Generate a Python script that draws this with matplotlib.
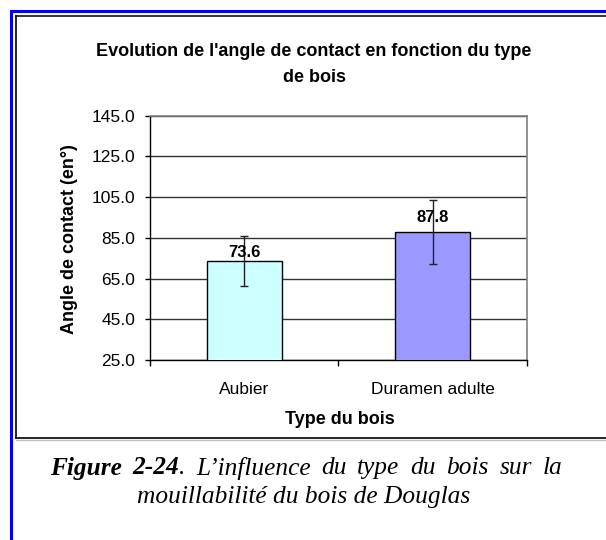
import matplotlib
matplotlib.use("Agg")
import matplotlib.pyplot as plt
from matplotlib.lines import Line2D
from matplotlib.ticker import FixedLocator, FormatStrFormatter

# Data
categories = ["Aubier", "Duramen adulte"]
angles = [73.6, 87.8]
errors = [12.1, 15.8]
bar_colors = ["#CCFFFF", "#9999FF"]
y_ticks = [25.0, 45.0, 65.0, 85.0, 105.0, 125.0, 145.0]

W, H = 606, 540
fig = plt.figure(figsize=(W / 100, H / 100), dpi=100)
fig.patch.set_facecolor("white")


def fx(px):
    return px / W


def fy(py):
    return 1 - py / H


SANS = "Liberation Sans"
SERIF = "Liberation Serif"

# Page frame: blue border lines and the black chart frame with its shadow
fig.add_artist(Line2D([fx(11), fx(11)], [fy(11), fy(540)], color="#0000FF", lw=2.2))
fig.add_artist(Line2D([fx(11), fx(606)], [fy(11), fy(11)], color="#0000FF", lw=2.2))
fig.add_artist(Line2D([fx(15.5), fx(606)], [fy(15.5), fy(15.5)], color="#333333", lw=1.4))
fig.add_artist(Line2D([fx(15.5), fx(15.5)], [fy(15.5), fy(438)], color="black", lw=1.2))
fig.add_artist(Line2D([fx(15.5), fx(606)], [fy(438), fy(438)], color="black", lw=1.2))
fig.add_artist(Line2D([fx(16), fx(606)], [fy(440), fy(440)], color="#C0C0C0", lw=1.0))

# Plot area
left, right, top, bottom = 150, 526.7, 115.7, 360
ax = fig.add_axes([fx(left), fy(bottom), fx(right - left), (bottom - top) / H])
x = list(range(len(categories)))
ax.bar(x, angles, width=0.4, color=bar_colors, edgecolor="black", linewidth=1.0, zorder=3)
ax.errorbar(x, angles, yerr=errors, fmt="none", ecolor="#222222", elinewidth=1.0,
            capsize=3, capthick=1.0, zorder=4)

label_offsets = [0.5, 5]
for xi, v, off in zip(x, angles, label_offsets):
    ax.annotate(f"{v:.1f}", (xi, v), xytext=(0, off), textcoords="offset points",
                ha="center", va="bottom", fontsize=12, fontweight="bold",
                family=SANS, zorder=5)

ax.set_xlim(-0.5, len(categories) - 0.5)
ax.set_ylim(y_ticks[0], y_ticks[-1])
ax.set_yticks(y_ticks)
ax.yaxis.set_major_formatter(FormatStrFormatter("%.1f"))
ax.yaxis.grid(True, color="#333333", linewidth=1.0, zorder=0)
ax.set_axisbelow(True)

ax.set_xticks(x)
ax.set_xticklabels(categories)
ax.xaxis.set_minor_locator(FixedLocator([i - 0.5 for i in range(len(categories) + 1)]))
ax.tick_params(axis="x", which="major", length=0, pad=16)
ax.tick_params(axis="x", which="minor", length=4.5, width=1.0, direction="out", color="black")
ax.tick_params(axis="y", length=3.6, width=1.0, direction="out", pad=7, color="black")
for lab in ax.get_xticklabels() + ax.get_yticklabels():
    lab.set_family(SANS)
    lab.set_fontsize(12.5)

for side in ("left", "bottom"):
    ax.spines[side].set_color("black")
    ax.spines[side].set_linewidth(1.0)
for side in ("top", "right"):
    ax.spines[side].set_color("#808080")
    ax.spines[side].set_linewidth(1.2)

# Titles and axis labels
fig.text(fx(314), fy(51), "Evolution de l'angle de contact en fonction du type",
         ha="center", va="center", fontsize=13, fontweight="bold", family=SANS)
fig.text(fx(314), fy(77), "de bois",
         ha="center", va="center", fontsize=13, fontweight="bold", family=SANS)
fig.text(fx(70), fy(239), "Angle de contact (en°)", rotation=90,
         ha="center", va="center", fontsize=13, fontweight="bold", family=SANS)
fig.text(fx(340), fy(420), "Type du bois",
         ha="center", va="center", fontsize=13, fontweight="bold", family=SANS)

# Caption below the chart frame; first line is justified across its width
renderer = fig.canvas.get_renderer()
cap_words = [("Figure", True, True), ("2-24", True, True), (".", False, False),
             ("L’influence", False, True), ("du", False, True), ("type", False, True),
             ("du", False, True), ("bois", False, True), ("sur", False, True),
             ("la", False, True)]
line1_left, line1_right, line1_y = 50, 562, 468
artists = []
for word, bold, _ in cap_words:
    t = fig.text(0, fy(line1_y), word, ha="left", va="center", fontsize=18.3,
                 fontstyle="italic", fontweight="bold" if bold else "normal", family=SERIF)
    artists.append(t)
widths = [a.get_window_extent(renderer).width for a in artists]
n_gaps = sum(1 for i, w in enumerate(cap_words) if w[2] and i > 0)
gap = (line1_right - line1_left - sum(widths)) / n_gaps
pos = line1_left
for i, (a, w) in enumerate(zip(artists, widths)):
    if i > 0 and cap_words[i][2]:
        pos += gap
    a.set_x(fx(pos))
    pos += w

fig.text(fx(304), fy(497), "mouillabilité du bois de Douglas", ha="center", va="center",
         fontsize=18.3, fontstyle="italic", family=SERIF)

fig.savefig("out.png", dpi=100, facecolor="white")
